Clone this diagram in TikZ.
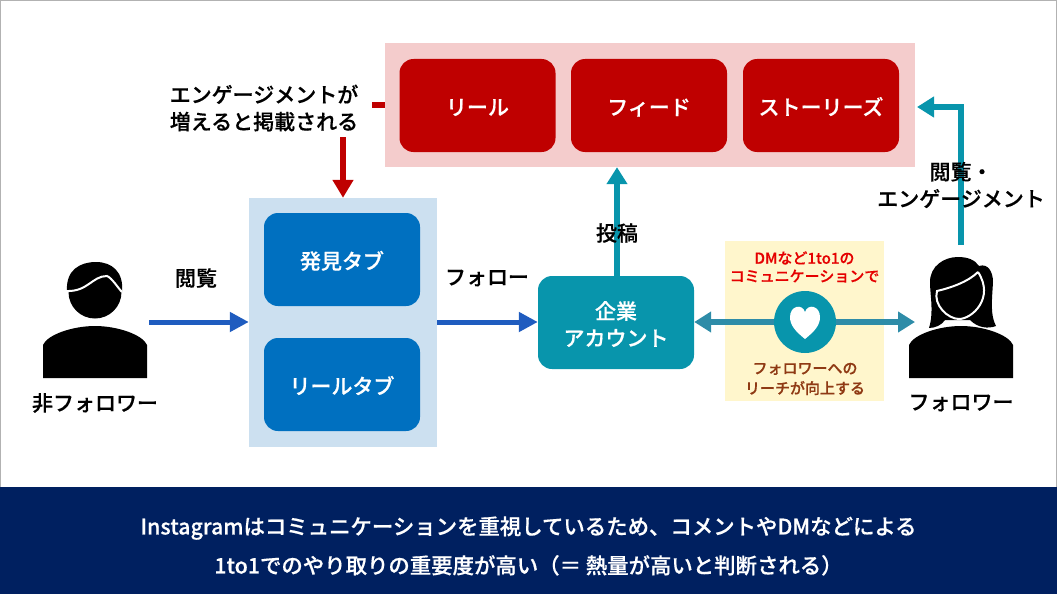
\documentclass[tikz,border=0pt]{standalone}
\usepackage{fontspec}
\setmainfont{Noto Sans CJK JP}[UprightFont=* Medium, FakeBold=0.5]
\usetikzlibrary{arrows.meta}
\definecolor{reelred}{HTML}{BF0000}
\definecolor{redpanel}{HTML}{F4CCCC}
\definecolor{tabblue}{HTML}{0070C0}
\definecolor{bluepanel}{HTML}{CCE0F0}
\definecolor{arrowblue}{HTML}{1F5CBF}
\definecolor{tealbox}{HTML}{0895AC}
\definecolor{arrowteal}{HTML}{2E8CA8}
\definecolor{notepanel}{HTML}{FFF6CC}
\definecolor{noteink}{HTML}{8F3A14}
\definecolor{bandnavy}{HTML}{002060}
\begin{document}
\begin{tikzpicture}[x=1pt,y=-1pt,
    every node/.style = {inner sep=0pt, align=center, font=\fontsize{21}{27}\selectfont},
    panel/.style = {rectangle, minimum width=#1},
    tabbox/.style = {rectangle, rounded corners=14pt, fill=tabblue, text=white,
      minimum width=156pt, minimum height=93pt, text height=22pt, text depth=3pt},
    reelbox/.style = {tabbox, fill=reelred},
    notetext/.style = {font=\fontsize{15}{#1}\selectfont},
    bluearrow/.style = {draw=arrowblue, line width=5pt, -{Triangle[width=19pt,length=19pt]}},
    tealarrow/.style = {draw=tealbox, line width=6pt, -{Triangle[width=20pt,length=17pt]}},
    redarrow/.style = {draw=reelred, line width=6pt, -{Triangle[width=20pt,length=18pt]}}]
  \useasboundingbox (0,0) rectangle (1057,594);
  \draw[black!30] (0.5,0.5) rectangle (1056.5,593.5);

  % panels
  \node[panel=530pt, minimum height=124pt, fill=redpanel] (redback) at (650,105) {};
  \node[panel=188pt, minimum height=249pt, fill=bluepanel] (blueback) at (343,322.5) {};
  \node[panel=159pt, minimum height=160pt, fill=notepanel] (noteback) at (804.5,321) {};
  \node[panel=1057pt, minimum height=107pt, fill=bandnavy] (band) at (528.5,540.5) {};

  % boxes
  \node[reelbox] (reel) at (477.5,105.5) {リール};
  \node[reelbox] (feed) at (649,105.5) {フィード};
  \node[reelbox] (story) at (821,105.5) {ストーリーズ};
  \node[tabbox] (findtab) at (342,259.5) {発見タブ};
  \node[tabbox] (reeltab) at (342,384.5) {リールタブ};
  \node[tabbox, fill=tealbox, text height=50pt] (company) at (616,322.5) {企業\\アカウント};

  % people
  \fill (43,378) -- (43,345) .. controls (47,335) and (72,326) .. (95,326)
    .. controls (118,326) and (143,335) .. (147,345) -- (147,378) -- cycle;
  \fill (95,292) circle (26.5pt);
  \fill (67,290) .. controls (66,270) and (80,262) .. (96,262) .. controls (112,262) and (124,272) .. (122,292) -- cycle;
  \draw[white, line width=2pt] (66,291) .. controls (88,292) and (92,276) .. (107,276) .. controls (112,278) and (118,288) .. (122,292);

  \fill (909,378) -- (909,345) .. controls (913,335) and (938,326) .. (961,326)
    .. controls (984,326) and (1009,335) .. (1013,345) -- (1013,378) -- cycle;
  \fill (929,328) .. controls (934,312) and (930,295) .. (930,282) .. controls (930,266) and (944,257) .. (958,257)
    .. controls (968,257) and (975,260) .. (979,266) .. controls (988,263) and (993,272) .. (993,282)
    .. controls (992,300) and (990,315) .. (996,326) .. controls (988,329) and (978,328) .. (970,320)
    -- (945,320) .. controls (942,325) and (935,328) .. cycle;
  \draw[white, fill=black, line width=2pt] (978,272) .. controls (968,282) and (950,288) .. (937,291)
    .. controls (933,305) and (948,319) .. (959,319) .. controls (972,319) and (995,298) .. (978,272);

  \coordinate (viewer) at (149,322);
  \coordinate (follower) at (915,322);
  \coordinate (panelstub) at (372,105);
  \coordinate (redstart) at (343,137);
  \coordinate (tealstart) at (961,245);
  \coordinate (tealend) at (917,107);
  \coordinate (poststart) at (617,276);
  \node (viewerlabel) at (95,403) {非フォロワー};
  \node (followerlabel) at (961,403) {フォロワー};

  % arrows
  \draw[bluearrow] (viewer) -- (blueback.west |- viewer);
  \draw[bluearrow] (blueback.east |- viewer) -- (company.west |- viewer);
  \draw[tealarrow] (poststart) -- (redback.south -| poststart);
  \draw[draw=reelred, line width=6pt] (panelstub) -- (redback.west |- panelstub);
  \draw[redarrow] (redstart) -- (blueback.north -| redstart);
  \draw[tealarrow] (tealstart) |- (tealend);
  \draw[draw=arrowteal, line width=6pt, {Triangle[width=20pt,length=17pt]}-{Triangle[width=20pt,length=17pt]}]
    (company.east |- follower) -- (follower);

  \node[circle, fill=tealbox, minimum size=62pt] (heartdisc) at (805,322) {};
  \fill[white] (805,339) .. controls (795,331) and (790,325) .. (790,317) .. controls (790,306) and (802,303) .. (805,312)
    .. controls (808,303) and (820,306) .. (820,317) .. controls (820,325) and (815,331) .. (805,339) -- cycle;

  % labels
  \node (viewlabel) at (196,278) {閲覧};
  \node (followlabel) at (487,278) {フォロー};
  \node (postlabel) at (617,233) {投稿};
  \node (englabel) at (264,108) {エンゲージメントが\\増えると掲載される};
  \node (viewenglabel) at (961,185) {閲覧・\\エンゲージメント};
  \node[notetext=18, text=red!90!black] (dmlabel) at (804.5,267) {DMなど1to1の\\コミュニケーションで};
  \node[notetext=20, text=noteink] (reachlabel) at (805,379) {フォロワーへの\\リーチが向上する};
  \node[text=white, font=\fontsize{21.4}{39}\selectfont] (bandlabel) at (528.5,546) {Instagramはコミュニケーションを重視しているため、コメントやDMなどによる\\1to1でのやり取りの重要度が高い（＝ 熱量が高いと判断される）};
\end{tikzpicture}
\end{document}
